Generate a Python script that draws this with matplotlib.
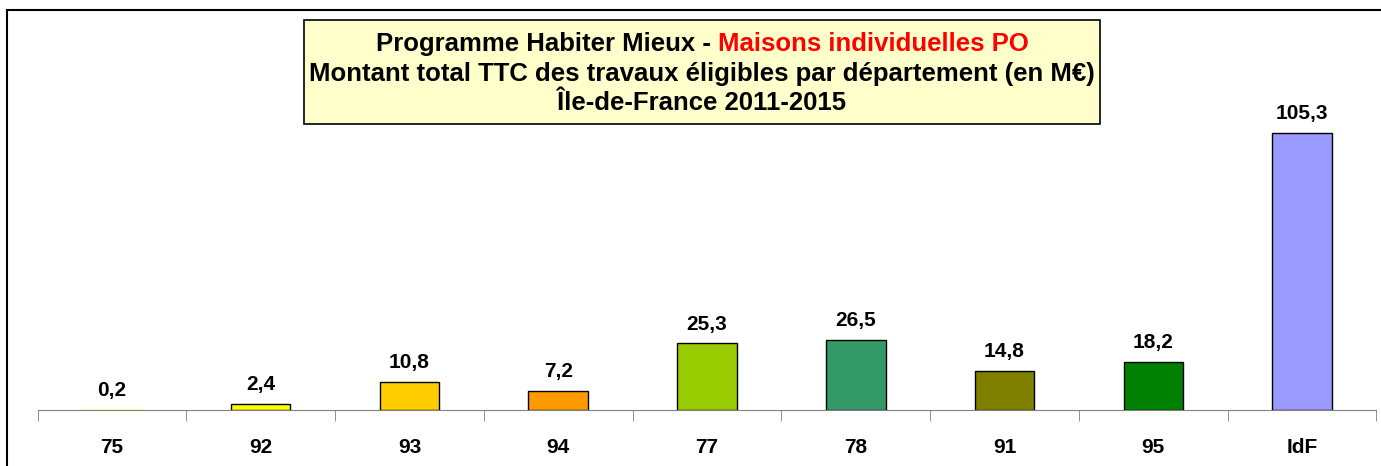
import numpy as np
import matplotlib
matplotlib.use("Agg")
import matplotlib.pyplot as plt
from matplotlib.patches import Rectangle

matplotlib.rcParams["font.family"] = ["Liberation Sans", "DejaVu Sans"]

# données
departements = ["75", "92", "93", "94", "77", "78", "91", "95", "IdF"]
montants = [0.2, 2.4, 10.8, 7.2, 25.3, 26.5, 14.8, 18.2, 105.3]
etiquettes = ["0,2", "2,4", "10,8", "7,2", "25,3", "26,5", "14,8", "18,2", "105,3"]
couleurs = ["#FFFF99", "#FFFF00", "#FFCC00", "#FF9900", "#99CC00",
            "#339966", "#808000", "#008000", "#9999FF"]

W, H = 1381, 466
fig = plt.figure(figsize=(W / 100, H / 100), dpi=100)

# cadre extérieur (seuls haut et gauche visibles)
fig.add_artist(Rectangle((7 / W, -0.05), 1.2, (H - 10) / H + 0.05,
                         transform=fig.transFigure, fill=False,
                         edgecolor="black", linewidth=1.5))

# axe : de x=37.6 à 1376.4 px, base à y=410 px
left, right, base = 37.6, 1376.4, 410
ymax = 120
px_per_unit = 277 / 105.3
top = base - ymax * px_per_unit
ax = fig.add_axes([left / W, (H - base) / H, (right - left) / W, (base - top) / H])

x = np.arange(len(departements))
bars = ax.bar(x, montants, width=0.4, color=couleurs, edgecolor="black", linewidth=1)
bars[0].set_edgecolor("none")  # 0,2 : invisible sur l'original
ax.set_xlim(-0.5, len(departements) - 0.5)
ax.set_ylim(0, ymax)

for xi, v, lab in zip(x, montants, etiquettes):
    ax.annotate(lab, (xi, v), xytext=(0, 14), textcoords="offset points",
                ha="center", va="center", fontsize=15, fontweight="bold")

for s in ["top", "right", "left"]:
    ax.spines[s].set_visible(False)
ax.spines["bottom"].set_color("#808080")
ax.set_yticks([])
ax.set_xticks(x)
ax.set_xticklabels(departements, fontsize=15, fontweight="bold")
ax.tick_params(axis="x", which="major", length=0, pad=20)
ax.set_xticks(np.arange(-0.5, len(departements)), minor=True)
ax.tick_params(axis="x", which="minor", length=8, color="#808080", direction="out")

# boîte du titre
bx0, bx1, by0, by1 = 304, 1100, 20, 124
fig.add_artist(Rectangle((bx0 / W, 1 - by1 / H), (bx1 - bx0) / W, (by1 - by0) / H,
                         transform=fig.transFigure, facecolor="#FFFFCC",
                         edgecolor="black", linewidth=1.2, zorder=5))
cx = (bx0 + bx1) / 2 / W
fs_titre = 18.5
fig.canvas.draw()
r = fig.canvas.get_renderer()
t1 = fig.text(0, 1 - 44 / H, "Programme Habiter Mieux - ", fontsize=fs_titre,
              fontweight="bold", va="center", ha="left", zorder=6)
t2 = fig.text(0, 1 - 44 / H, "Maisons individuelles PO", fontsize=fs_titre,
              fontweight="bold", va="center", ha="left", color="red", zorder=6)
w1 = t1.get_window_extent(r).width / W
w2 = t2.get_window_extent(r).width / W
t1.set_x(cx - (w1 + w2) / 2)
t2.set_x(cx - (w1 + w2) / 2 + w1)
fig.text(cx, 1 - 74 / H, "Montant total TTC des travaux éligibles par département (en M€)",
         fontsize=fs_titre, fontweight="bold", ha="center", va="center", zorder=6)
fig.text(cx, 1 - 103 / H, "Île-de-France 2011-2015", fontsize=fs_titre,
         fontweight="bold", ha="center", va="center", zorder=6)

fig.savefig("out.png", dpi=100)
